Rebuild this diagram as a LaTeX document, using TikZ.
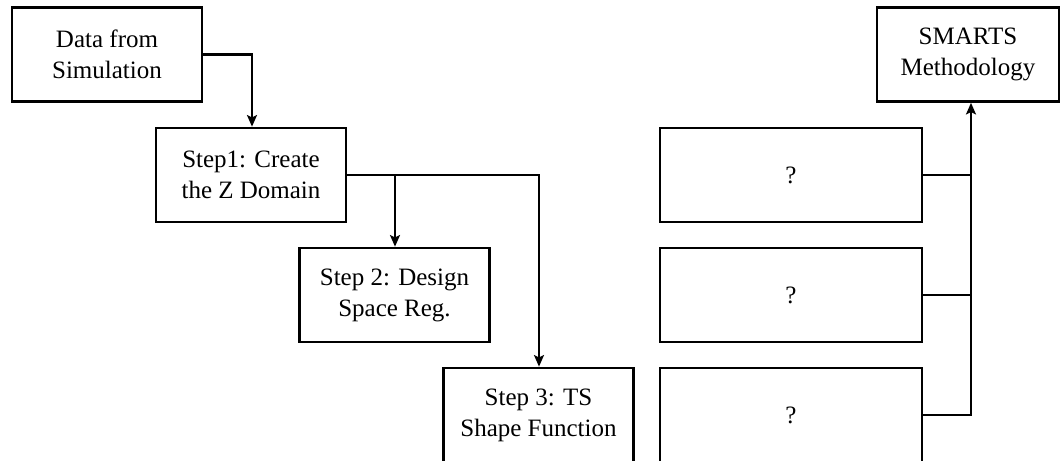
\documentclass[tikz,border=0pt]{standalone}
\usepackage{fontspec}
\setmainfont{Liberation Serif}
\usetikzlibrary{arrows.meta}
\begin{document}
\begin{tikzpicture}[x=0.5pt,y=-0.5pt,
  box/.style={draw,line width=1.35pt,align=center,inner sep=0pt,
    font=\fontsize{12.5}{15.5}\selectfont,minimum width=95pt,minimum height=47pt},
  qbox/.style={box,minimum width=131pt},
  conn/.style={line width=1.05pt},
  arr/.style={conn,-{Stealth[length=5.8pt,width=5pt,inset=1.2pt]}}]
\useasboundingbox[fill=white] (0,0) rectangle (1062,461);
\node[box] (data) at (107,54.5) {Data from\\Simulation};
\node[box] (s1) at (251,175) {Step1: Create\\the Z Domain};
\node[box] (s2) at (394.5,295) {Step 2: Design\\Space Reg.};
\node[box] (s3) at (538.5,415) {Step 3: TS\\Shape Function};
\node[box,minimum width=91pt] (sm) at (968,54.5) {SMARTS\\Methodology};
\node[qbox] (q1) at (791,175) {?};
\node[qbox] (q2) at (791,295) {?};
\node[qbox] (q3) at (791,415) {?};
\coordinate (b1) at (252,54.5);
\coordinate (b2) at (395,175);
\coordinate (b3) at (539,175);
\coordinate (v1) at (971,175);
\coordinate (v2) at (971,295);
\coordinate (v3) at (971,415);
\draw[arr] (data.east) -- (b1) -- (b1 |- s1.north);
\draw[arr] (s1.east) -- (b3) -- (b3 |- s3.north);
\draw[arr] (b2) -- (b2 |- s2.north);
\draw[conn] (q1.east) -- (v1);
\draw[conn] (q2.east) -- (v2);
\draw[arr] (q3.east) -- (v3) -- (v3 |- sm.south);
\end{tikzpicture}
\end{document}
